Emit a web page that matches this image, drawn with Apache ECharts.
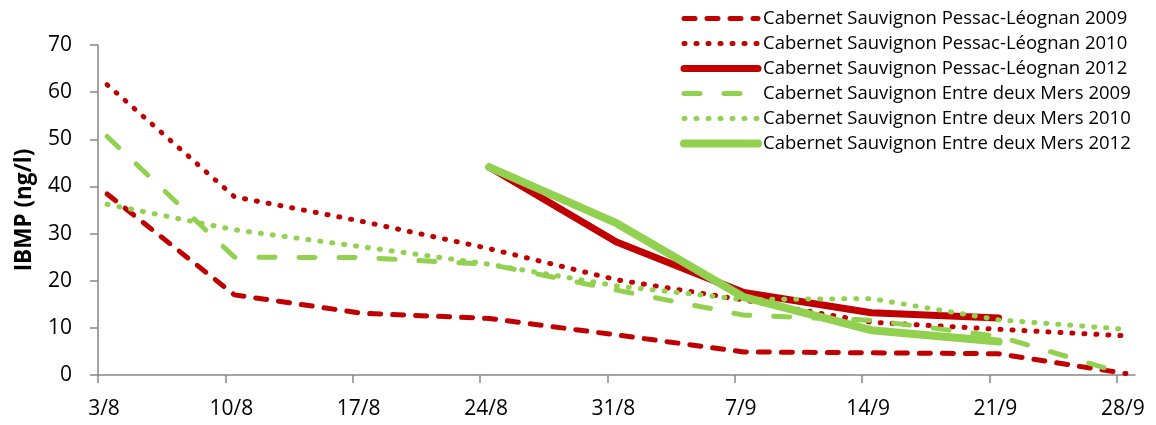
<!DOCTYPE html>
<html>
<head>
<meta charset="utf-8">
<script src="https://cdn.jsdelivr.net/npm/echarts@6/dist/echarts.min.js"></script>
<style>
html,body{margin:0;padding:0;background:#fff;}
#chart{width:1156px;height:425px;}
</style>
</head>
<body>
<div id="chart"></div>
<script>
// ---- data ----
var dates = ['3/8','10/8','17/8','24/8','31/8','7/9','14/9','21/9','28/9'];
var dates2012 = ['24/8','31/8','7/9','14/9','21/9'];
var tickLabels = ['3/8','10/8','17/8','24/8','31/8','7/9','14/9','21/9','28/9'];

var pl2009  = [38.4, 17.0, 13.1, 12.0, 8.5, 4.9, 4.7, 4.5, 0.3];
var pl2010  = [61.6, 37.8, 32.6, 26.8, 20.2, 15.9, 11.2, 9.7, 8.3];
var pl2012  = [44.1, 28.2, 17.5, 13.2, 12.1];
var edm2009 = [50.6, 25.0, 24.9, 23.5, 18.0, 12.7, 11.6, 8.2, 0.2];
var edm2010 = [36.2, 30.8, 27.2, 23.5, 18.9, 16.0, 16.2, 11.7, 9.7];
var edm2012 = [44.1, 32.2, 16.5, 9.5, 7.1];

var names = [
  'Cabernet Sauvignon Pessac-Léognan 2009',
  'Cabernet Sauvignon Pessac-Léognan 2010',
  'Cabernet Sauvignon Pessac-Léognan 2012',
  'Cabernet Sauvignon Entre deux Mers 2009',
  'Cabernet Sauvignon Entre deux Mers 2010',
  'Cabernet Sauvignon Entre deux Mers 2012'
];

// ---- helpers ----
function dayOf(s){ var p = s.split('/').map(Number); return p[1] === 8 ? p[0] - 3 : p[0] + 28; }
function pts(ds, vals){ return ds.map(function(d, i){ return [dayOf(d) + 0.5, vals[i]]; }); }
var tickDays = tickLabels.map(dayOf);
var RED = '#C00000', GREEN = '#92D050';
var FONT = 'Open Sans';

function ser(name, ds, vals, color, width, type){
  return {
    name: name, type: 'line', data: pts(ds, vals), symbol: 'none',
    lineStyle: {color: color, width: width, type: type, cap: 'round', join: 'round'},
    itemStyle: {color: color}
  };
}

var chart = echarts.init(document.getElementById('chart'));
chart.setOption({
  animation: false,
  textStyle: {fontFamily: FONT},
  grid: {left: 98, right: 21, top: 45, bottom: 50},
  legend: {
    orient: 'vertical', left: 675, top: 4,
    itemWidth: 74, itemHeight: 14, itemGap: 6,
    itemStyle: {opacity: 0},
    lineStyle: {width: 'inherit', type: 'inherit', cap: 'round'},
    textStyle: {fontFamily: FONT, fontSize: 18.5, lineHeight: 18, color: '#000'},
    data: names
  },
  xAxis: {
    type: 'value', min: 0, max: 57,
    splitLine: {show: false},
    axisLine: {lineStyle: {color: '#868686', width: 1.5}},
    axisTick: {customValues: tickDays, length: 8, lineStyle: {color: '#868686', width: 1.5}},
    axisLabel: {
      customValues: tickDays, margin: 24, fontSize: 21, color: '#000', fontFamily: FONT,
      padding: [0, 0, 0, 12],
      formatter: function(v){ var i = tickDays.indexOf(v); return i >= 0 ? tickLabels[i] : ''; }
    }
  },
  yAxis: {
    type: 'value', min: 0, max: 70, interval: 10,
    name: 'IBMP (ng/l)', nameLocation: 'middle', nameGap: 62, nameRotate: 90,
    nameTextStyle: {fontFamily: FONT, fontSize: 22.5, fontWeight: 'bold', color: '#000'},
    splitLine: {show: false},
    axisLine: {show: true, lineStyle: {color: '#868686', width: 1.5}},
    axisTick: {show: true, length: 8, lineStyle: {color: '#868686', width: 1.5}},
    axisLabel: {margin: 26, fontSize: 21, color: '#000', fontFamily: FONT}
  },
  series: [
    ser(names[0], dates, pl2009, RED, 5, [11, 12]),
    ser(names[1], dates, pl2010, RED, 5, [1, 11]),
    ser(names[2], dates2012, pl2012, RED, 7, 'solid'),
    ser(names[3], dates, edm2009, GREEN, 5, [16, 24]),
    ser(names[4], dates, edm2010, GREEN, 5, [1, 11]),
    ser(names[5], dates2012, edm2012, GREEN, 8, 'solid')
  ]
});
</script>
</body>
</html>
